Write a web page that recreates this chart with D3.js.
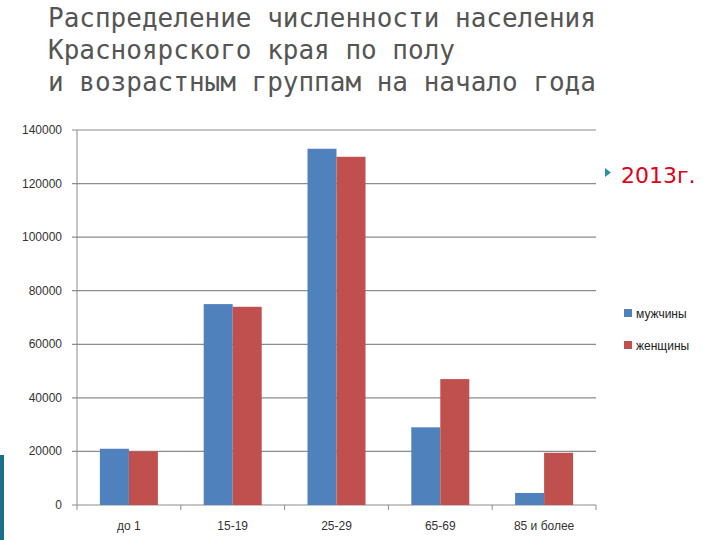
<!DOCTYPE html>
<html><head><meta charset="utf-8">
<script src="https://cdn.jsdelivr.net/npm/d3@7"></script>
<style>body{margin:0;background:#fff}</style>
</head><body>
<svg id="c" width="720" height="540"></svg>
<script>
// chart data
var groups = ["до 1", "15-19", "25-29", "65-69", "85 и более"];
var men = [21000, 75000, 133000, 29000, 4500];
var women = [20000, 74000, 130000, 47000, 19500];
var yTicks = [0, 20000, 40000, 60000, 80000, 100000, 120000, 140000];
var titleLines = ["Распределение численности населения", "Красноярского края по полу", "и возрастным группам на начало года"];

var svg = d3.select("#c");
var pLeft = 77, pRight = 596, pTop = 130, pBottom = 505;

svg.selectAll(".t").data(titleLines).enter().append("text")
    .attr("x", 48).attr("y", function(d, i){ return 27 + i * 32; })
    .attr("font-family", "DejaVu Sans Mono").attr("font-size", 26)
    .attr("fill", "#555").text(function(d){ return d; });

var x = d3.scaleBand().domain(groups).range([pLeft, pRight]);
var y = d3.scaleLinear().domain([0, 140000]).range([pBottom, pTop]);

svg.append("g").selectAll("line").data(yTicks).enter().append("line")
    .attr("x1", pLeft - 5).attr("x2", pRight)
    .attr("y1", function(d){ return y(d); }).attr("y2", function(d){ return y(d); })
    .attr("stroke", "#8c8c8c").attr("stroke-width", 1.2);

svg.append("line").attr("x1", pLeft).attr("x2", pLeft).attr("y1", pTop).attr("y2", pBottom)
    .attr("stroke", "#8c8c8c");

svg.selectAll(".xt").data(groups.concat([""])).enter().append("line")
    .attr("x1", function(d, i){ return pLeft + i * x.step(); })
    .attr("x2", function(d, i){ return pLeft + i * x.step(); })
    .attr("y1", pBottom).attr("y2", pBottom + 5).attr("stroke", "#8c8c8c");

svg.selectAll(".yl").data(yTicks).enter().append("text")
    .attr("x", 62).attr("y", function(d){ return y(d) + 4; })
    .attr("text-anchor", "end").attr("font-family", "Liberation Sans").attr("font-size", 12)
    .attr("fill", "#333").text(function(d){ return d; });

svg.selectAll(".xl").data(groups).enter().append("text")
    .attr("x", function(d){ return x(d) + x.bandwidth() / 2; }).attr("y", 530)
    .attr("text-anchor", "middle").attr("font-family", "Liberation Sans").attr("font-size", 12)
    .attr("fill", "#333").text(function(d){ return d; });

var bw = 29;
svg.selectAll(".m").data(men).enter().append("rect")
    .attr("x", function(d, i){ return x(groups[i]) + x.bandwidth() / 2 - bw; })
    .attr("y", function(d){ return y(d); }).attr("width", bw)
    .attr("height", function(d){ return pBottom - y(d); }).attr("fill", "#4f81bd");
svg.selectAll(".w").data(women).enter().append("rect")
    .attr("x", function(d, i){ return x(groups[i]) + x.bandwidth() / 2; })
    .attr("y", function(d){ return y(d); }).attr("width", bw)
    .attr("height", function(d){ return pBottom - y(d); }).attr("fill", "#c0504d");

// legend
var leg = [["мужчины", "#4f81bd"], ["женщины", "#c0504d"]];
leg.forEach(function(l, i){
    svg.append("rect").attr("x", 624).attr("y", 309 + i * 32).attr("width", 8).attr("height", 8).attr("fill", l[1]);
    svg.append("text").attr("x", 636).attr("y", 318 + i * 32).attr("font-family", "Liberation Sans")
        .attr("font-size", 12).attr("fill", "#222").text(l[0]);
});

svg.append("path").attr("d", "M605,168 L611,172.5 L605,177 Z").attr("fill", "#2e8fa6");
svg.append("text").attr("x", 621).attr("y", 183).attr("font-family", "DejaVu Sans")
    .attr("font-size", 22).attr("fill", "#e0001a").text("2013г.");

svg.append("rect").attr("x", 0).attr("y", 455).attr("width", 4).attr("height", 85).attr("fill", "#1a6e8a");
</script>
</body></html>
